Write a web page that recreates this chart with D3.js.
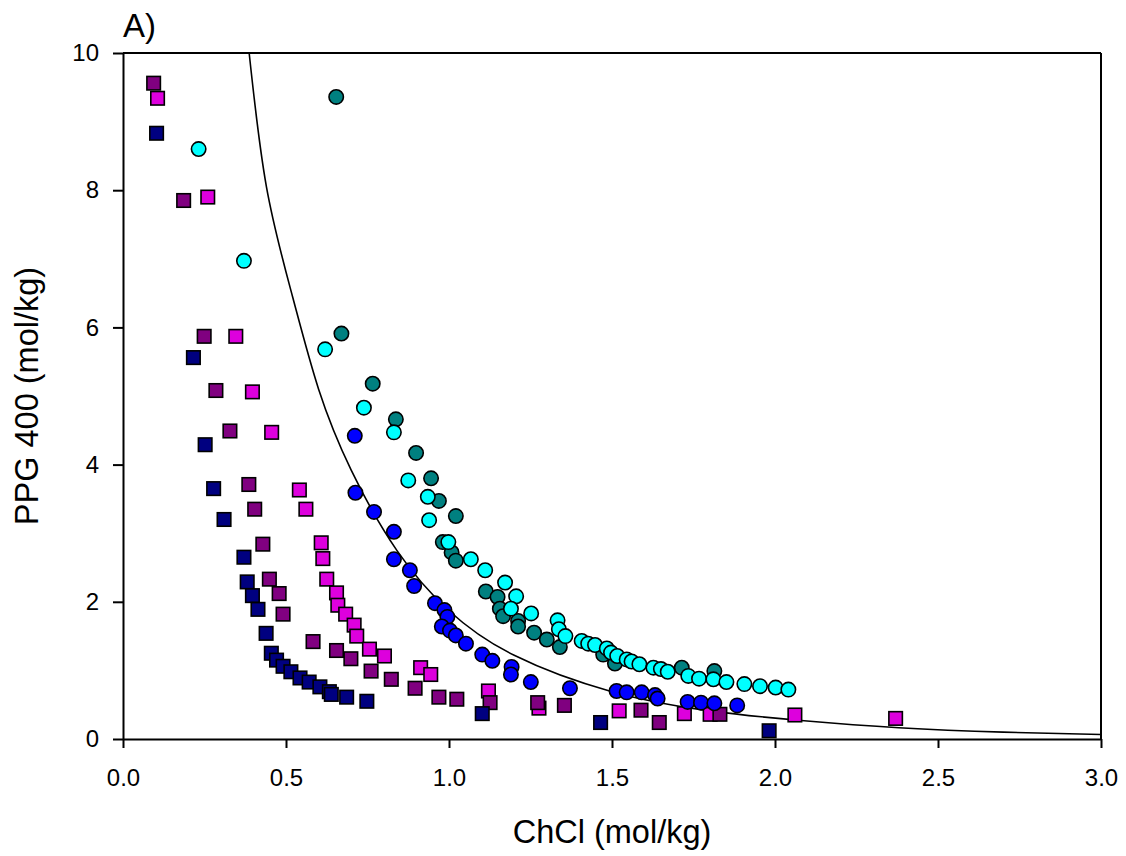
<!DOCTYPE html>
<html>
  <head>
    <style>
      body { margin: 0; background: #fff; }
      svg { font-family: "Liberation Sans", Arial, sans-serif; }
      .axis path, .axis line { stroke: #000; stroke-width: 2; }
      .axis text { font-size: 24px; fill: #000; }
    </style>
  </head>
  <body>
    <script src="https://d3js.org/d3.v7.min.js"></script>
    <div id="chart"></div>
    <script>
      // Data: [ChCl, PPG 400] in mol/kg
      var navySquares = [
        [0.103, 8.83], [0.216, 5.56], [0.252, 4.29], [0.278, 3.65], [0.310, 3.20],
        [0.371, 2.65], [0.381, 2.29], [0.397, 2.09], [0.414, 1.89], [0.439, 1.54],
        [0.455, 1.25], [0.471, 1.15], [0.491, 1.06], [0.515, 0.98], [0.543, 0.89],
        [0.571, 0.83], [0.604, 0.76], [0.633, 0.69], [0.639, 0.65], [0.686, 0.61],
        [0.748, 0.55], [1.102, 0.37], [1.465, 0.24], [1.982, 0.12]
      ];
      var purpleSquares = [
        [0.094, 9.56], [0.186, 7.85], [0.249, 5.87], [0.285, 5.08], [0.328, 4.49],
        [0.386, 3.71], [0.404, 3.35], [0.429, 2.84], [0.449, 2.33], [0.479, 2.12],
        [0.491, 1.82], [0.583, 1.42], [0.655, 1.29], [0.699, 1.17], [0.761, 0.99],
        [0.823, 0.87], [0.896, 0.74], [0.969, 0.61], [1.024, 0.58], [1.126, 0.53],
        [1.272, 0.53], [1.354, 0.49], [1.589, 0.42], [1.645, 0.24], [1.831, 0.36]
      ];
      var magentaSquares = [
        [0.106, 9.34], [0.260, 7.90], [0.346, 5.87], [0.397, 5.06], [0.456, 4.47],
        [0.541, 3.63], [0.561, 3.35], [0.608, 2.86], [0.613, 2.63], [0.625, 2.33],
        [0.655, 2.13], [0.659, 1.95], [0.683, 1.82], [0.709, 1.66], [0.717, 1.50],
        [0.756, 1.31], [0.802, 1.21], [0.913, 1.04], [0.944, 0.94], [1.121, 0.70],
        [1.276, 0.45], [1.522, 0.41], [1.722, 0.37], [1.801, 0.36], [2.061, 0.35],
        [2.370, 0.30]
      ];
      var blueCircles = [
        [0.711, 4.42], [0.713, 3.59], [0.770, 3.31], [0.831, 3.02], [0.831, 2.62],
        [0.880, 2.46], [0.893, 2.23], [0.957, 1.98], [0.986, 1.88], [0.995, 1.78],
        [0.978, 1.64], [1.003, 1.58], [1.021, 1.51], [1.052, 1.39], [1.102, 1.23],
        [1.133, 1.14], [1.192, 1.05], [1.190, 0.94], [1.251, 0.83], [1.371, 0.74],
        [1.514, 0.70], [1.545, 0.68], [1.591, 0.68], [1.632, 0.64], [1.640, 0.59],
        [1.732, 0.54], [1.773, 0.53], [1.814, 0.52], [1.884, 0.49]
      ];
      var tealCircles = [
        [0.654, 9.36], [0.670, 5.91], [0.766, 5.18], [0.837, 4.66], [0.899, 4.17],
        [0.945, 3.80], [0.969, 3.47], [1.021, 3.25], [0.981, 2.87], [1.008, 2.72],
        [1.021, 2.60], [1.113, 2.15], [1.149, 2.07], [1.156, 1.90], [1.166, 1.79],
        [1.212, 1.72], [1.212, 1.64], [1.261, 1.55], [1.300, 1.45], [1.340, 1.34],
        [1.473, 1.23], [1.509, 1.10], [1.714, 1.04], [1.814, 0.99]
      ];
      var cyanCircles = [
        [0.232, 8.60], [0.371, 6.97], [0.620, 5.68], [0.739, 4.83], [0.831, 4.47],
        [0.875, 3.77], [0.935, 3.53], [0.939, 3.19], [0.998, 2.87], [1.067, 2.62],
        [1.111, 2.46], [1.172, 2.28], [1.206, 2.08], [1.190, 1.90], [1.252, 1.83],
        [1.333, 1.73], [1.337, 1.60], [1.357, 1.50], [1.407, 1.43], [1.427, 1.39],
        [1.448, 1.37], [1.484, 1.32], [1.497, 1.26], [1.516, 1.21], [1.545, 1.16],
        [1.560, 1.13], [1.584, 1.09], [1.627, 1.04], [1.650, 1.02], [1.671, 0.98],
        [1.734, 0.92], [1.767, 0.88], [1.811, 0.87], [1.851, 0.83], [1.906, 0.80],
        [1.954, 0.77], [2.002, 0.75], [2.041, 0.72]
      ];
      // Fitted binodal curve
      var fitCurve = [
        [0.387, 10.0], [0.44, 8.05], [0.52, 6.45], [0.60, 5.1], [0.70, 3.92],
        [0.84, 2.75], [1.0, 1.87], [1.2, 1.22], [1.5, 0.69], [1.8, 0.41],
        [2.08, 0.27], [2.38, 0.165], [2.7, 0.10], [3.0, 0.065]
      ];
      var xTicks = [0, 0.5, 1.0, 1.5, 2.0, 2.5, 3.0];
      var yTicks = [0, 2, 4, 6, 8, 10];

      // Set the dimensions of the canvas
      var margin = {top: 53, right: 25, bottom: 117, left: 123},
          width = 1126 - margin.left - margin.right,
          height = 856 - margin.top - margin.bottom;

      var x = d3.scaleLinear().domain([0, 3]).range([0, width]);
      var y = d3.scaleLinear().domain([0, 10]).range([height, 0]);

      var svg = d3.select("#chart")
                  .append("svg")
                    .attr("width", width + margin.left + margin.right)
                    .attr("height", height + margin.top + margin.bottom)
                  .append("g")
                    .attr("transform", "translate(" + margin.left + "," + margin.top + ")");

      // Frame top and right
      svg.append("line")
          .attr("x1", 0).attr("x2", width).attr("y1", 0).attr("y2", 0)
          .attr("stroke", "#000").attr("stroke-width", 2);
      svg.append("line")
          .attr("x1", width).attr("x2", width).attr("y1", 0).attr("y2", height)
          .attr("stroke", "#000").attr("stroke-width", 2);

      // Axes
      svg.append("g")
          .attr("class", "axis")
          .attr("transform", "translate(0," + height + ")")
          .call(d3.axisBottom(x).tickValues(xTicks).tickFormat(d3.format(".1f"))
                  .tickSize(9).tickSizeOuter(0).tickPadding(21));

      svg.append("g")
          .attr("class", "axis")
          .call(d3.axisLeft(y).tickValues(yTicks).tickFormat(d3.format("d"))
                  .tickSize(10).tickSizeOuter(0).tickPadding(14));

      // Curve
      var line = d3.line()
          .x(function(d) { return x(d[0]); })
          .y(function(d) { return y(d[1]); })
          .curve(d3.curveNatural);
      svg.append("path")
          .datum(fitCurve)
          .attr("fill", "none")
          .attr("stroke", "#000")
          .attr("stroke-width", 1.6)
          .attr("d", line);

      // Series, in drawing order
      var series = [
        {data: magentaSquares, color: "#dd00dd", shape: "square"},
        {data: purpleSquares, color: "#800080", shape: "square"},
        {data: navySquares, color: "#000080", shape: "square"},
        {data: blueCircles, color: "#0000ff", shape: "circle"},
        {data: tealCircles, color: "#008080", shape: "circle"},
        {data: cyanCircles, color: "#00ffff", shape: "circle"}
      ];

      var side = 13.5;
      series.forEach(function(s) {
        var g = svg.append("g");
        if (s.shape === "square") {
          g.selectAll("rect")
              .data(s.data)
            .enter().append("rect")
              .attr("x", function(d) { return x(d[0]) - side / 2; })
              .attr("y", function(d) { return y(d[1]) - side / 2; })
              .attr("width", side)
              .attr("height", side)
              .attr("fill", s.color)
              .attr("stroke", "#000")
              .attr("stroke-width", 1.6);
        } else {
          g.selectAll("circle")
              .data(s.data)
            .enter().append("circle")
              .attr("cx", function(d) { return x(d[0]); })
              .attr("cy", function(d) { return y(d[1]); })
              .attr("r", 7.2)
              .attr("fill", s.color)
              .attr("stroke", "#000")
              .attr("stroke-width", 1.6);
        }
      });

      // Axis titles
      svg.append("text")
          .attr("x", width / 2)
          .attr("y", height + 104)
          .attr("text-anchor", "middle")
          .style("font-size", "32.5px")
          .text("ChCl (mol/kg)");

      svg.append("text")
          .attr("transform", "rotate(-90)")
          .attr("x", -height / 2)
          .attr("y", 38 - margin.left)
          .attr("text-anchor", "middle")
          .style("font-size", "32.5px")
          .text("PPG 400 (mol/kg)");

      // Panel label
      svg.append("text")
          .attr("x", 0)
          .attr("y", 37 - margin.top)
          .style("font-size", "33px")
          .text("A)");
    </script>
  </body>
</html>
